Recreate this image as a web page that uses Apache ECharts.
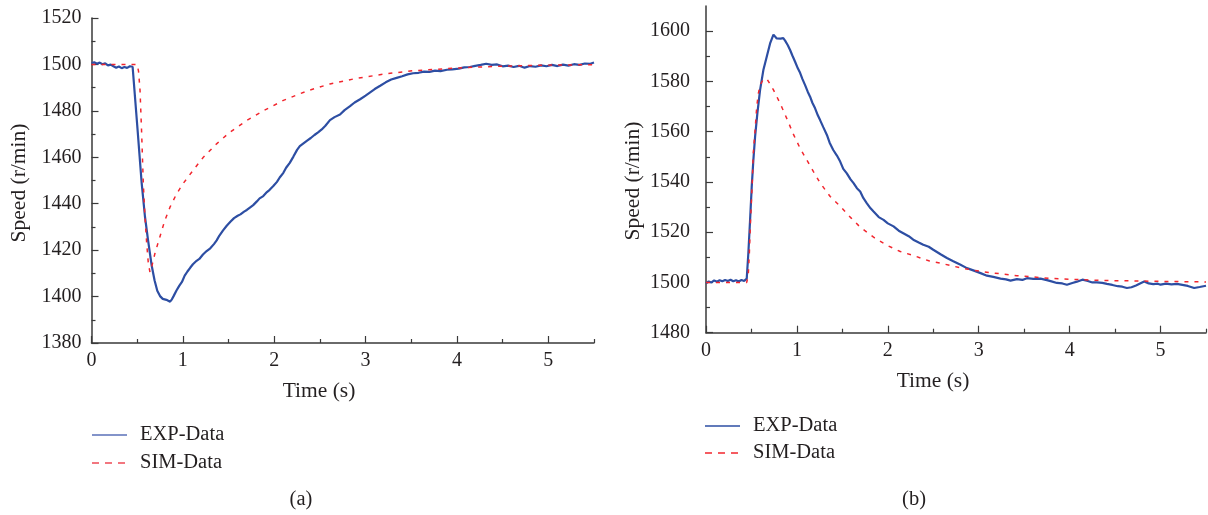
<!DOCTYPE html>
<html>
<head>
<meta charset="utf-8">
<script src="https://cdn.jsdelivr.net/npm/echarts@6/dist/echarts.min.js"></script>
<style>
  html, body { margin: 0; padding: 0; background: #ffffff; }
  #chart { width: 1208px; height: 515px; }
</style>
</head>
<body>
<div id="chart"></div>
<script>
// (a) speed response to a load step: measured trace
const timeA_exp = [0.00, 0.03, 0.06, 0.09, 0.12, 0.15, 0.18, 0.21, 0.24, 0.27, 0.30, 0.33, 0.36, 0.39, 0.42, 0.45, 0.458,
  0.50, 0.549, 0.585, 0.62, 0.658, 0.69, 0.72, 0.75, 0.78, 0.80, 0.82, 0.84, 0.86, 0.88, 0.90, 0.93, 0.96, 0.99,
  1.02, 1.05, 1.08, 1.11, 1.15, 1.18, 1.22, 1.26, 1.30, 1.34, 1.37, 1.40, 1.44, 1.48, 1.52, 1.56, 1.60, 1.63, 1.67,
  1.70, 1.73, 1.77, 1.81, 1.84, 1.88, 1.92, 1.95, 1.99, 2.03, 2.06, 2.10, 2.13, 2.17, 2.21, 2.25, 2.28, 2.32, 2.36,
  2.40, 2.44, 2.48, 2.52, 2.56, 2.61, 2.66, 2.72, 2.77, 2.83, 2.88, 2.94, 3.00, 3.05, 3.10, 3.16, 3.22, 3.28, 3.34,
  3.40, 3.46, 3.52, 3.58, 3.64, 3.70, 3.76, 3.82, 3.89, 3.95, 4.02, 4.08, 4.14, 4.20, 4.26, 4.32, 4.38, 4.44, 4.50,
  4.56, 4.62, 4.68, 4.74, 4.80, 4.86, 4.92, 4.98, 5.04, 5.10, 5.16, 5.22, 5.28, 5.34, 5.40, 5.46, 5.50];
const speedA_exp = [1500.6, 1500.9, 1500.3, 1500.8, 1500.1, 1500.5, 1499.6, 1499.9, 1499.2, 1498.6, 1499.1, 1498.4, 1498.9, 1498.5, 1499.2, 1499.0, 1499.2,
  1474.0, 1449.0, 1434.5, 1424.0, 1413.5, 1407.0, 1402.5, 1400.2, 1399.0, 1399.4, 1398.6, 1399.0, 1397.8, 1398.8, 1400.3, 1402.6, 1404.6, 1406.3,
  1409.0, 1410.8, 1412.4, 1413.9, 1415.4, 1416.2, 1418.1, 1419.6, 1420.8, 1422.6, 1424.2, 1426.3, 1428.5, 1430.5, 1432.2, 1433.8, 1434.8, 1435.4, 1436.6,
  1437.3, 1438.2, 1439.4, 1441.0, 1442.3, 1443.3, 1445.0, 1446.0, 1447.6, 1449.4, 1451.3, 1453.3, 1455.5, 1457.6, 1460.3, 1463.2, 1464.8, 1466.0, 1467.2,
  1468.3, 1469.6, 1470.7, 1472.0, 1473.6, 1476.0, 1477.3, 1478.4, 1480.3, 1482.0, 1483.6, 1485.0, 1486.6, 1488.0, 1489.4, 1490.8, 1492.3, 1493.5, 1494.2,
  1494.9, 1495.7, 1496.2, 1496.4, 1496.9, 1496.8, 1497.3, 1497.1, 1497.7, 1497.9, 1498.2, 1498.7, 1498.9, 1499.4, 1499.8, 1500.3, 1499.8, 1500.0, 1499.2,
  1499.5, 1498.9, 1499.4, 1498.6, 1499.3, 1499.0, 1499.6, 1499.2, 1499.8, 1499.3, 1499.9, 1499.5, 1500.1, 1499.8, 1500.4, 1500.3, 1500.8];

// (a) simulated trace
const timeA_sim = [0.00, 0.50, 0.515, 0.531, 0.549, 0.567, 0.585, 0.604, 0.622, 0.640, 0.66, 0.695, 0.749, 0.80, 0.859, 0.932,
  1.005, 1.114, 1.224, 1.369, 1.515, 1.698, 1.88, 2.10, 2.354, 2.61, 2.90, 3.23, 3.52, 4.03, 4.43, 5.00, 5.50];
const speedA_sim = [1500.0, 1500.0, 1497.0, 1489.0, 1470.3, 1448.8, 1434.4, 1423.0, 1414.3, 1410.5, 1413.0, 1418.7, 1425.8, 1432.5, 1438.5, 1444.3,
  1448.8, 1454.5, 1460.0, 1465.8, 1470.8, 1475.8, 1480.0, 1484.5, 1488.5, 1491.6, 1494.0, 1496.0, 1497.3, 1498.5, 1499.2, 1499.7, 1499.9];

// (b) speed response to a load release: measured trace
const timeB_exp = [0.00, 0.03, 0.06, 0.09, 0.12, 0.15, 0.18, 0.21, 0.24, 0.27, 0.30, 0.33, 0.36, 0.39, 0.42, 0.448,
  0.466, 0.485, 0.503, 0.521, 0.54, 0.565, 0.595, 0.631, 0.668, 0.705, 0.742, 0.76, 0.778, 0.80, 0.82, 0.833, 0.85, 0.87,
  0.90, 0.925, 0.95, 0.98, 1.01, 1.035, 1.06, 1.09, 1.12, 1.145, 1.17, 1.20, 1.23, 1.255, 1.29, 1.33, 1.36, 1.40, 1.44,
  1.476, 1.51, 1.549, 1.59, 1.623, 1.66, 1.696, 1.73, 1.77, 1.81, 1.843, 1.90, 1.953, 2.00, 2.063, 2.12, 2.17, 2.23,
  2.28, 2.34, 2.39, 2.45, 2.50, 2.58, 2.65, 2.72, 2.80, 2.87, 2.94, 3.02, 3.09, 3.16, 3.24, 3.30, 3.35, 3.42, 3.48,
  3.53, 3.60, 3.68, 3.75, 3.80, 3.86, 3.92, 3.97, 4.03, 4.08, 4.14, 4.20, 4.25, 4.30, 4.36, 4.41, 4.47, 4.53, 4.58,
  4.63, 4.68, 4.73, 4.78, 4.82, 4.87, 4.92, 4.97, 5.00, 5.06, 5.12, 5.18, 5.24, 5.30, 5.37, 5.43, 5.50];
const speedB_exp = [1499.6, 1500.4, 1500.0, 1500.8, 1500.3, 1500.9, 1500.5, 1501.0, 1500.6, 1501.1, 1500.5, 1500.9, 1500.4, 1501.0, 1500.6, 1501.5,
  1511.7, 1524.9, 1538.1, 1548.7, 1558.0, 1567.3, 1576.6, 1584.5, 1589.8, 1595.1, 1598.6, 1598.0, 1597.1, 1597.6, 1597.0, 1597.6, 1597.2, 1596.2,
  1594.4, 1592.5, 1590.3, 1587.8, 1585.2, 1583.4, 1581.0, 1578.5, 1575.8, 1573.9, 1571.5, 1569.3, 1566.5, 1564.6, 1561.8, 1558.7, 1555.6, 1552.7, 1550.5,
  1548.1, 1545.2, 1543.4, 1541.0, 1539.5, 1537.5, 1536.2, 1533.6, 1531.5, 1529.5, 1528.2, 1526.0, 1524.9, 1523.5, 1522.3, 1520.6, 1519.6, 1518.4,
  1517.0, 1515.9, 1515.0, 1514.2, 1513.0, 1511.2, 1509.7, 1508.4, 1507.0, 1505.7, 1504.8, 1503.7, 1502.7, 1502.2, 1501.5, 1501.2, 1500.7, 1501.3, 1501.0,
  1501.7, 1501.4, 1501.5, 1500.9, 1500.4, 1499.8, 1499.6, 1499.1, 1499.8, 1500.3, 1501.1, 1500.6, 1500.0, 1500.0, 1499.8, 1499.4, 1499.0, 1498.5, 1498.3,
  1497.8, 1498.1, 1498.8, 1499.7, 1500.4, 1499.6, 1499.3, 1499.5, 1499.1, 1499.5, 1499.2, 1499.4, 1499.0, 1498.6, 1497.8, 1498.2, 1498.7];

// (b) simulated trace
const timeB_sim = [0.00, 0.448, 0.465, 0.477, 0.49, 0.507, 0.52, 0.54, 0.558, 0.576, 0.595, 0.63, 0.67, 0.69, 0.742, 0.815, 0.888,
  0.962, 1.035, 1.109, 1.182, 1.255, 1.366, 1.476, 1.586, 1.696, 1.843, 1.99, 2.137, 2.30, 2.45, 2.61, 2.80, 3.05, 3.42,
  3.79, 4.34, 5.26, 5.50];
const speedB_sim = [1500.0, 1500.0, 1503.0, 1511.7, 1524.9, 1538.1, 1551.3, 1560.7, 1569.9, 1575.2, 1578.5, 1580.8, 1581.0, 1580.6, 1576.6, 1571.3, 1565.3,
  1558.9, 1553.4, 1548.7, 1544.1, 1539.6, 1534.2, 1530.3, 1526.0, 1522.0, 1518.0, 1514.8, 1512.3, 1510.5, 1508.6, 1507.4, 1505.8, 1504.2, 1502.7,
  1501.6, 1500.8, 1500.3, 1500.2];

// axis ticks and labels
const timeMajorTicks = [0, 1, 2, 3, 4, 5];
const timeMinorTicks = [0.5, 1.5, 2.5, 3.5, 4.5, 5.5];
const speedA_majorTicks = [1380, 1400, 1420, 1440, 1460, 1480, 1500, 1520];
const speedA_minorTicks = [1390, 1410, 1430, 1450, 1470, 1490, 1510];
const speedB_majorTicks = [1480, 1500, 1520, 1540, 1560, 1580, 1600];
const speedB_minorTicks = [1490, 1510, 1530, 1550, 1570, 1590];

const seriesNames = ['EXP-Data', 'SIM-Data'];
const xAxisTitle = 'Time (s)';
const yAxisTitle = 'Speed (r/min)';
const panelLabels = ['(a)', '(b)'];

const FONT = '"Liberation Serif", "DejaVu Serif", serif';
const TEXT_COLOR = '#231f20';
const AXIS_COLOR = '#3a3a3a';
const EXP_COLOR = '#2d4ea3';
const SIM_COLOR = '#f2262e';
const SIM_DASH = [4, 6];

function pairs(xs, ys) {
  return xs.map((x, i) => [x, ys[i]]);
}

function minorAxis(gridIndex, position, min, max, interval, ticks) {
  return {
    type: 'value', gridIndex, position, min, max, interval,
    axisLine: { show: true, onZero: false, lineStyle: { color: AXIS_COLOR, width: 1.5 } },
    axisTick: { show: true, inside: true, length: 4, customValues: ticks, lineStyle: { color: AXIS_COLOR, width: 1.2 } },
    axisLabel: { show: false },
    splitLine: { show: false }
  };
}

function majorAxis(gridIndex, position, min, max, interval, ticks, margin) {
  return {
    type: 'value', gridIndex, position, min, max, interval,
    axisLine: { show: false, onZero: false },
    axisTick: { show: true, inside: true, length: 7, customValues: ticks, lineStyle: { color: AXIS_COLOR, width: 1.2 } },
    axisLabel: {
      show: true, customValues: ticks, margin,
      formatter: (v) => String(v),
      fontFamily: FONT, fontSize: 20, color: TEXT_COLOR
    },
    splitLine: { show: false }
  };
}

function lineSeries(name, xAxisIndex, yAxisIndex, data, color, width, type) {
  return {
    name, type: 'line', xAxisIndex, yAxisIndex, data,
    symbol: 'none', showSymbol: false, smooth: false,
    lineStyle: { color, width, type },
    itemStyle: { color },
    emphasis: { disabled: true },
    animation: false
  };
}

function label(text, x, y, size, rotation, align) {
  return {
    type: 'text', x, y, rotation: rotation || 0, silent: true,
    style: {
      text, fill: TEXT_COLOR, font: size + 'px ' + FONT,
      textAlign: align || 'center', textVerticalAlign: 'middle'
    }
  };
}

// key: a line sample followed by the series name
function keyRow(x, y, name, color, dash) {
  return [
    {
      type: 'line', silent: true,
      shape: { x1: x, y1: y, x2: x + 35, y2: y },
      style: { stroke: color, lineWidth: 1.5, lineDash: dash || null }
    },
    label(name, x + 48, y, 20.5, 0, 'left')
  ];
}

const chart = echarts.init(document.getElementById('chart'), null, { renderer: 'canvas' });

chart.setOption({
  backgroundColor: '#ffffff',
  animation: false,
  grid: [
    { left: 91.5, top: 18, width: 502.5, height: 325, outerBoundsMode: 'none', containLabel: false },
    { left: 706, top: 6, width: 500, height: 326.7, outerBoundsMode: 'none', containLabel: false }
  ],
  xAxis: [
    minorAxis(0, 'bottom', 0, 5.5, 0.5, timeMinorTicks),
    majorAxis(0, 'bottom', 0, 5.5, 1, timeMajorTicks, 8),
    minorAxis(1, 'bottom', 0, 5.5, 0.5, timeMinorTicks),
    majorAxis(1, 'bottom', 0, 5.5, 1, timeMajorTicks, 8)
  ],
  yAxis: [
    minorAxis(0, 'left', 1380, 1520, 10, speedA_minorTicks),
    majorAxis(0, 'left', 1380, 1520, 20, speedA_majorTicks, 10),
    minorAxis(1, 'left', 1480, 1610, 10, speedB_minorTicks),
    majorAxis(1, 'left', 1480, 1610, 20, speedB_majorTicks, 16)
  ],
  series: [
    lineSeries(seriesNames[0], 0, 0, pairs(timeA_exp, speedA_exp), EXP_COLOR, 2.2, 'solid'),
    lineSeries(seriesNames[1], 0, 0, pairs(timeA_sim, speedA_sim), SIM_COLOR, 1.5, SIM_DASH),
    lineSeries(seriesNames[0], 2, 2, pairs(timeB_exp, speedB_exp), EXP_COLOR, 2.2, 'solid'),
    lineSeries(seriesNames[1], 2, 2, pairs(timeB_sim, speedB_sim), SIM_COLOR, 1.5, SIM_DASH)
  ],
  graphic: [
    label(yAxisTitle, 19, 183, 21.5, Math.PI / 2),
    label(yAxisTitle, 633.5, 181, 21.5, Math.PI / 2),
    label(xAxisTitle, 319, 391, 21.5),
    label(xAxisTitle, 933, 381, 21.5),
    label(panelLabels[0], 301, 500, 20.5),
    label(panelLabels[1], 914, 500, 20.5)
  ]
    .concat(keyRow(92, 435, seriesNames[0], '#5a71b8'))
    .concat(keyRow(92, 463, seriesNames[1], '#ee4a55', [7, 6]))
    .concat(keyRow(705, 426, seriesNames[0], EXP_COLOR))
    .concat(keyRow(705, 453, seriesNames[1], SIM_COLOR, [7, 6]))
});
</script>
</body>
</html>
